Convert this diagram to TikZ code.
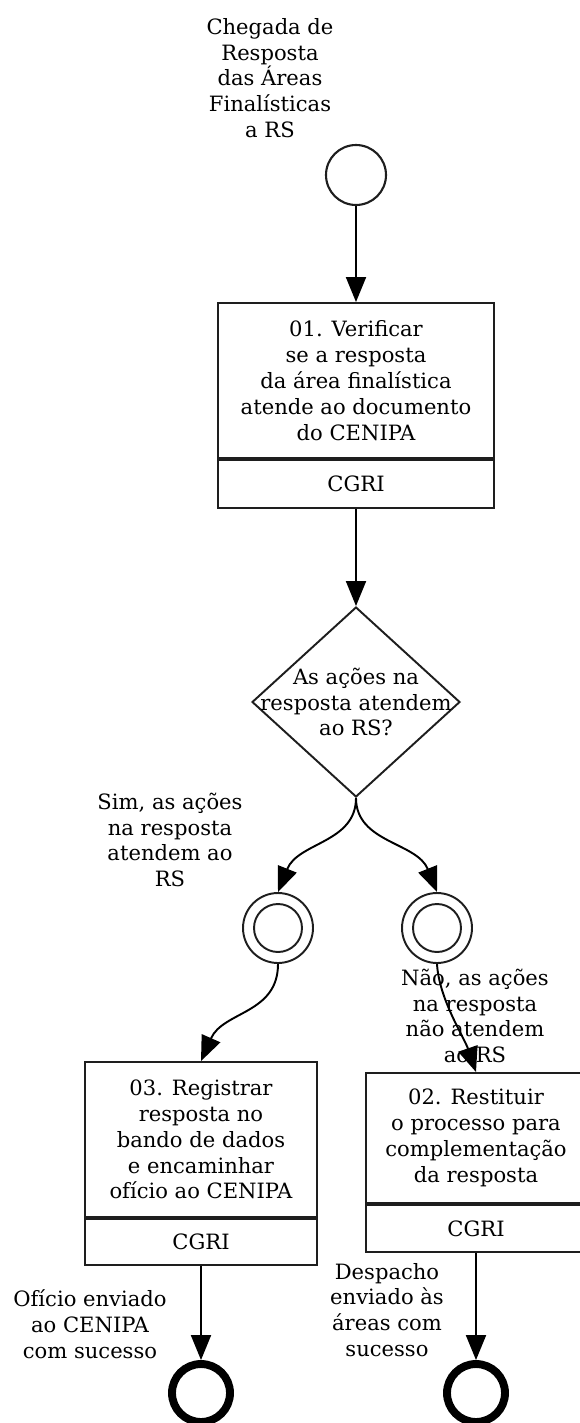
\documentclass[tikz,border=0pt]{standalone}
\usepackage{fontspec}
\setmainfont{DejaVu Serif}
\definecolor{line1}{RGB}{30, 30, 30}
\usetikzlibrary{shapes.geometric, arrows.meta, positioning}

\tikzset{
  every node/.style={font=\fontsize{12}{14.7}\selectfont},
  flow/.style={draw=black, line width=1.1pt, -{Triangle[length=0.5cm, width=0.4cm]}},
  startev/.style={circle, draw=line1, line width=1.2pt, minimum size=1.2cm, inner sep=0pt},
  midev/.style={circle, draw=line1, line width=1.1pt, minimum size=1.4cm, inner sep=0pt,
    path picture={\draw[line1, line width=1.1pt] (path picture bounding box.center) circle (0.48cm);}},
  endev/.style={circle, draw=black, line width=4.5pt, minimum size=1.16cm, inner sep=0pt},
  taskbody/.style={draw=line1, line width=1.1pt, align=center, inner sep=0pt},
  tasklane/.style={draw=line1, line width=1.1pt, inner sep=0pt},
  gateway/.style={diamond, draw=line1, line width=1.1pt, minimum width=4.16cm, minimum height=3.8cm, inner sep=0pt},
  evlabel/.style={align=center, inner sep=0pt}
}

\begin{document}
\begin{tikzpicture}[x=0.02cm, y=-0.02cm]
  \useasboundingbox (0,0) rectangle (579,1423);

  \node[evlabel] (startlbl) at (270,78) {Chegada de\\Resposta\\das Áreas\\Finalísticas\\a RS};
  \node[startev] (start) at (356,175) {};

  \node[taskbody, minimum width=5.52cm, minimum height=3.1cm] (t01) at (356,380.5)
    {01. Verificar\\se a resposta\\da área finalística\\atende ao documento\\do CENIPA};
  \node[tasklane, minimum width=5.52cm, minimum height=0.96cm, below=0pt of t01] (t01lane) {CGRI};

  \node[gateway, label={[evlabel]center:As ações na\\resposta atendem\\ao RS?}] (gw) at (356,702) {};

  \node[midev] (yes) at (278,928) {};
  \node[midev] (no) at (437,928) {};
  \node[evlabel] (yeslbl) at (170,840) {Sim, as ações\\na resposta\\atendem ao\\RS};
  \node[evlabel] (nolbl) at (475,1016) {Não, as ações\\na resposta\\não atendem\\ao RS};

  \node[taskbody, minimum width=4.64cm, minimum height=3.1cm] (t03) at (201,1139.5)
    {03. Registrar\\resposta no\\bando de dados\\e encaminhar\\ofício ao CENIPA};
  \node[tasklane, minimum width=4.64cm, minimum height=0.92cm, below=0pt of t03] (t03lane) {CGRI};

  \node[taskbody, minimum width=4.4cm, minimum height=2.6cm] (t02) at (476,1138)
    {02. Restituir\\o processo para\\complementação\\da resposta};
  \node[tasklane, minimum width=4.4cm, minimum height=0.94cm, below=0pt of t02] (t02lane) {CGRI};

  \node[endev] (end03) at (201,1393) {};
  \node[endev] (end02) at (476,1393) {};
  \node[evlabel] (end03lbl) at (90,1324) {Ofício enviado\\ao CENIPA\\com sucesso};
  \node[evlabel] (end02lbl) at (387,1310) {Despacho\\enviado às\\áreas com\\sucesso};

  \draw[flow] (start) -- (t01);
  \draw[flow] (t01lane) -- (gw);
  \draw[flow] (gw.south) .. controls +(0,45) and +(20,-50) .. (yes.north);
  \draw[flow] (gw.south) .. controls +(0,45) and +(-20,-50) .. (no.north);
  \draw[flow] (yes.south) .. controls +(0,50) and +(22,-50) .. (t03.north);
  \draw[flow] (no.south) .. controls +(2,35) and +(-12,-35) .. (t02.north);
  \draw[flow] (t03lane) -- (end03);
  \draw[flow] (t02lane) -- (end02);
\end{tikzpicture}
\end{document}
